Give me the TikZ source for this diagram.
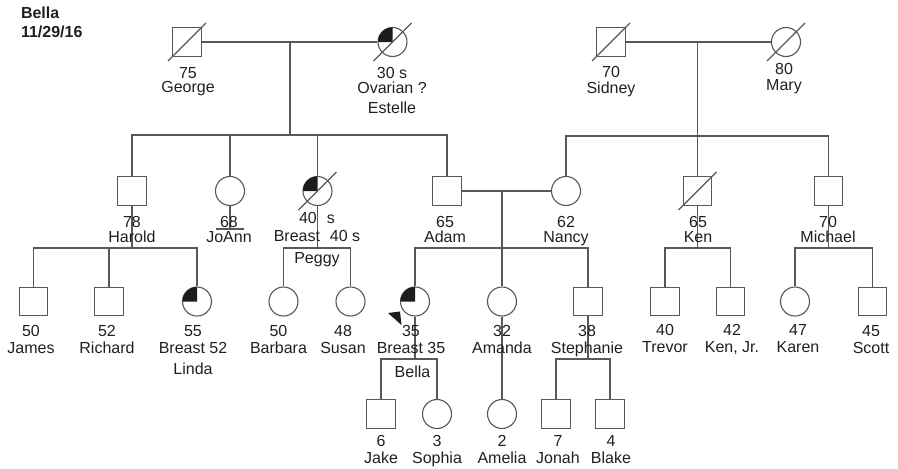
\documentclass[tikz,border=0pt]{standalone}
\usepackage{fontspec}
\setmainfont{Liberation Sans}
\definecolor{lncol}{RGB}{88,88,88}
\definecolor{txtcol}{RGB}{35,31,32}
\definecolor{affcol}{RGB}{30,27,28}

\begin{document}
\begin{tikzpicture}[
    x=1pt, y=-1pt,
    line width=1.1pt, color=lncol,
    male/.style={draw, rectangle, minimum size=28.5pt, inner sep=0pt},
    female/.style={draw, circle, minimum size=29pt, inner sep=0pt},
    lbl/.style={font=\fontsize{16}{#1}\selectfont, align=center,
                inner sep=0pt, anchor=north, text=txtcol},
    lbl/.default=15.5]
  \fill[white] (0,0) rectangle (898,469);

  % generation I
  \node[male]   (george)  at (187,42)   {};
  \node[female] (estelle) at (392.5,42) {};
  \node[male]   (sidney)  at (611,42)   {};
  \node[female] (mary)    at (786,42)   {};
  % generation II
  \node[male]   (harold)  at (132,191)   {};
  \node[female] (joann)   at (230,191)   {};
  \node[female] (peggy)   at (317.5,191) {};
  \node[male]   (adam)    at (447,191)   {};
  \node[female] (nancy)   at (566,191)   {};
  \node[male]   (ken)     at (697.5,191) {};
  \node[male]   (michael) at (828.5,191) {};
  % generation III
  \node[male]   (james)     at (33.5,301.5)  {};
  \node[male]   (richard)   at (109,301.5)   {};
  \node[female] (linda)     at (197,301.5)   {};
  \node[female] (barbara)   at (283.5,301.5) {};
  \node[female] (susan)     at (350.5,301.5) {};
  \node[female] (bella)     at (415,301.5)   {};
  \node[female] (amanda)    at (502,301.5)   {};
  \node[male]   (stephanie) at (588,301.5)   {};
  \node[male]   (trevor)    at (665,301.5)   {};
  \node[male]   (kenjr)     at (730.5,301.5) {};
  \node[female] (karen)     at (795,301.5)   {};
  \node[male]   (scott)     at (872.5,301.5) {};
  % generation IV
  \node[male]   (jake)   at (381,414) {};
  \node[female] (sophia) at (437,414) {};
  \node[female] (amelia) at (502,414) {};
  \node[male]   (jonah)  at (556,414) {};
  \node[male]   (blake)  at (610,414) {};

  % affected and deceased
  \foreach \n in {estelle,peggy,linda,bella}
    \fill[affcol] (\n.center) -- ++(-14.5pt,0pt)
      arc[start angle=180, end angle=90, radius=14.5pt] -- cycle;
  \foreach \n in {george,estelle,sidney,mary,peggy,ken}
    \draw (\n.center) ++(-19pt,-19pt) -- ++(38pt,38pt);
  \fill[affcol] (388,313) -- (400,311.5) -- (401.5,325) -- cycle;

  % couples and sibships
  \coordinate (ge)  at (290,42);
  \coordinate (geS) at (290,135);
  \draw (george) -- (estelle);
  \draw (ge) -- (geS);
  \draw (harold.north) |- (geS) -| (adam.north);
  \draw (joann) -- (joann |- geS);
  \draw (peggy) -- (peggy |- geS);

  \coordinate (sm)  at (697.5,42);
  \coordinate (smS) at (697.5,136);
  \draw (sidney) -- (mary);
  \draw (sm) -- (smS);
  \draw (nancy.north) |- (smS) -| (michael.north);
  \draw (ken) -- (ken |- smS);

  \coordinate (hS) at (132,248);
  \draw (harold) -- (hS);
  \draw (james.north) |- (hS) -| (linda.north);
  \draw (richard) -- (richard |- hS);

  \coordinate (jb) at (230,229);
  \draw (joann) -- (jb);
  \draw ([xshift=-14pt]jb) -- ([xshift=14pt]jb);

  \coordinate (pS) at (317.5,248);
  \draw (peggy) -- (pS);
  \draw (barbara.north) |- (pS) -| (susan.north);

  \coordinate (an)  at (502,191);
  \coordinate (anS) at (502,248);
  \draw (adam) -- (nancy);
  \draw (an) -- (anS);
  \draw (bella.north) |- (anS) -| (stephanie.north);
  \draw (amanda) -- (amanda |- anS);

  \coordinate (kS) at (697.5,248);
  \draw (ken) -- (kS);
  \draw (trevor.north) |- (kS) -| (kenjr.north);

  \coordinate (mS) at (828.5,248);
  \draw (michael) -- (mS);
  \draw (karen.north) |- (mS) -| (scott.north);

  \coordinate (bS) at (415,359);
  \draw (bella) -- (bS);
  \draw (jake.north) |- (bS) -| (sophia.north);
  \draw (amanda) -- (amelia);

  \coordinate (sS) at (588,359);
  \draw (stephanie) -- (sS);
  \draw (jonah.north) |- (sS) -| (blake.north);

  % labels
  \node[lbl=19, font=\bfseries\fontsize{16}{19}\selectfont, align=left,
        anchor=north west] (title) at (20.5,6.8) {Bella\\11/29/16};

  \node[lbl=14.5] (lgeorge)  at (188,66.8) {75\\George};
  \node[lbl=14.5] (lestelle) at (392,66.8) {30 s\\Ovarian ?\\[5.5pt]Estelle};
  \node[lbl=15.5] (lsidney)  at (611,66)   {70\\Sidney};
  \node[lbl=16]   (lmary)    at (784,62.6) {80\\Mary};

  \node[lbl]    (lharold)  at (132,215.3) {78\\Harold};
  \node[lbl]    (ljoann)   at (229,215.3) {68\\JoAnn};
  \node[lbl=18] (lpeggy)   at (317,211.3) {40\hspace{10pt}s\\Breast\hspace{10pt}40 s};
  \node[lbl]    (ladam)    at (445,215.3) {65\\Adam};
  \node[lbl]    (lnancy)   at (566,215.3) {62\\Nancy};
  \node[lbl]    (lken)     at (698,215.3) {65\\Ken};
  \node[lbl]    (lmichael) at (828,215.3) {70\\Michael};
  \node[lbl]    (peggybox) at (317,251.8) {Peggy};

  \node[lbl=17.5] (ljames)     at (31,324.6)    {50\\James};
  \node[lbl=17.5] (lrichard)   at (107,324.6)   {52\\Richard};
  \node[lbl=17.5] (llinda)     at (193,324.6)   {55\\Breast 52\\[3.4pt]Linda};
  \node[lbl=17.5] (lbarbara)   at (278.5,324.6) {50\\Barbara};
  \node[lbl=17.5] (lsusan)     at (343,324.6)   {48\\Susan};
  \node[lbl=17.5] (lbella)     at (411,324.6)   {35\\Breast 35};
  \node[lbl=17.5] (lamanda)    at (502,324.6)   {32\\Amanda};
  \node[lbl=17.5] (lstephanie) at (587,324.6)   {38\\Stephanie};
  \node[lbl=17.5] (ltrevor)    at (665,323.6)   {40\\Trevor};
  \node[lbl=17.5] (lkenjr)     at (732,323.6)   {42\\Ken, Jr.};
  \node[lbl=17.5] (lkaren)     at (798,323.6)   {47\\Karen};
  \node[lbl=17.5] (lscott)     at (871,324.6)   {45\\Scott};
  \node[lbl]      (bellabox)   at (412.5,365.8) {Bella};

  \node[lbl=17] (ljake)   at (381,434.6) {6\\Jake};
  \node[lbl=17] (lsophia) at (437,434.6) {3\\Sophia};
  \node[lbl=17] (lamelia) at (502,434.6) {2\\Amelia};
  \node[lbl=17] (ljonah)  at (558,434.6) {7\\Jonah};
  \node[lbl=17] (lblake)  at (611,434.6) {4\\Blake};
\end{tikzpicture}
\end{document}
